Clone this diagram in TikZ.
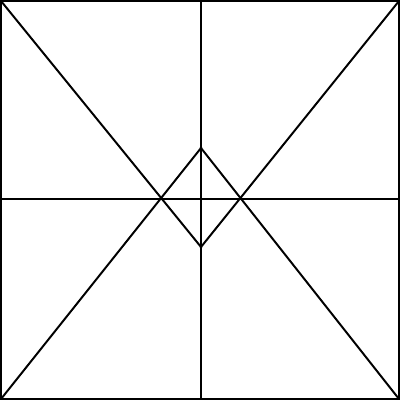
\documentclass[tikz,border=0pt]{standalone}
\usepackage{tikz}

\begin{document}
\begin{tikzpicture}[x=0.025cm,y=-0.025cm]
            \tikzstyle{edge} = [draw, line width=1.4pt, line cap=rect]
            \useasboundingbox (0,0) rectangle (400,400);
            
            % corners and points
            \coordinate (tl) at (1,1);
            \coordinate (tr) at (399,1);
            \coordinate (bl) at (1,399);
            \coordinate (br) at (399,399);
            \coordinate (top) at (201,148);
            \coordinate (bottom) at (201,247);
            
            % frame and cross
            \draw[edge] (tl) rectangle (br);
            \draw[edge] (201,1) -- (201,399);
            \draw[edge] (1,199) -- (399,199);
            
            % diagonals
            \draw[edge] (tl) -- (bottom);
            \draw[edge] (tr) -- (bottom);
            \draw[edge] (bl) -- (top);
            \draw[edge] (br) -- (top);
        \end{tikzpicture}
\end{document}
